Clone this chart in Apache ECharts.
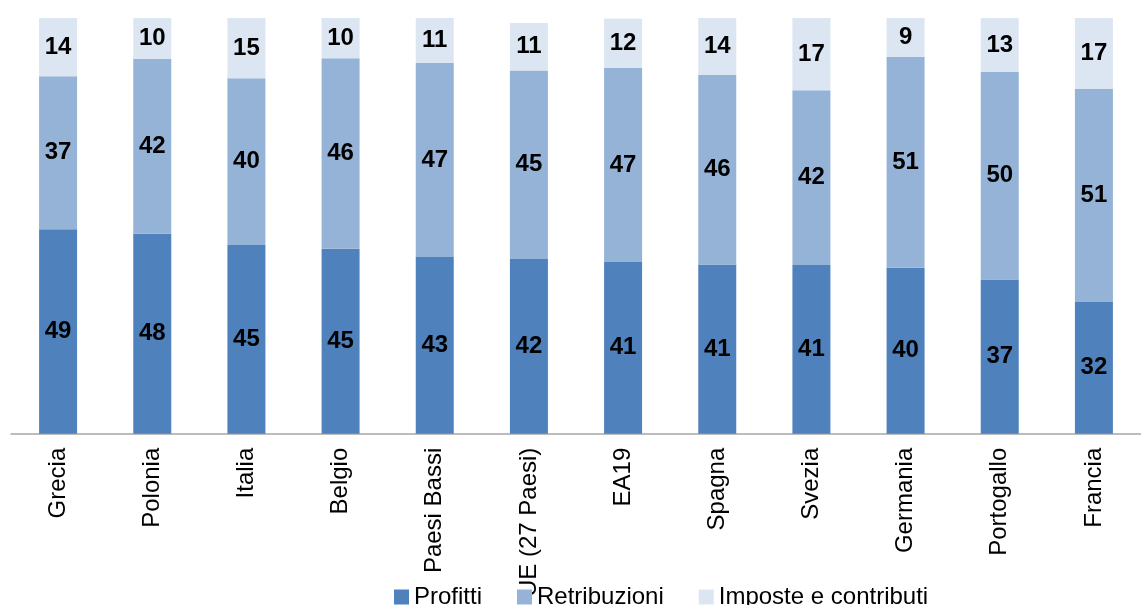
<!DOCTYPE html>
<html>
<head>
<meta charset="utf-8">
<script src="https://cdn.jsdelivr.net/npm/echarts@6/dist/echarts.min.js"></script>
<style>
html,body{margin:0;padding:0;background:#fff;}
#chart{width:1141px;height:605px;}
</style>
</head>
<body>
<div id="chart"></div>
<script>
const categories = ['Grecia','Polonia','Italia','Belgio','Paesi Bassi','UE (27 Paesi)','EA19','Spagna','Svezia','Germania','Portogallo','Francia'];
const profitti = [49.2, 48.1, 45.4, 44.5, 42.5, 42.0, 41.3, 40.7, 40.6, 39.9, 37.1, 31.7];
const retribuzioni = [36.8, 42.1, 40.1, 45.8, 46.7, 45.4, 46.7, 45.6, 42.0, 50.8, 49.9, 51.2];
const imposte = [14.0, 9.8, 14.6, 9.7, 10.8, 11.4, 11.8, 13.7, 17.4, 9.3, 13.0, 17.1];
const seriesNames = ['Profitti','Retribuzioni','Imposte e contributi'];
const colors = ['#4F81BD','#95B3D7','#DCE6F2'];

const FONT = 'Liberation Sans';
const chart = echarts.init(document.getElementById('chart'), null, {renderer:'canvas'});
const labelCfg = {
  show: true,
  position: 'inside',
  color: '#000',
  fontFamily: FONT,
  fontWeight: 'bold',
  fontSize: 24,
  formatter: p => Math.round(p.value)
};
const mk = (name, data, color) => ({
  name, type: 'bar', stack: 'tot', data,
  barWidth: 38,
  itemStyle: {color},
  label: labelCfg,
  emphasis: {disabled: true}
});
chart.setOption({
  animation: false,
  textStyle: {fontFamily: FONT},
  grid: {left: 11, top: 18, width: 1144.5, bottom: 171.3, containLabel: false},
  xAxis: {
    type: 'category',
    data: categories,
    axisTick: {show: false},
    axisLine: {lineStyle: {color: '#A6A6A6', width: 1.5}},
    axisLabel: {rotate: 90, margin: 14, fontSize: 24, color: '#000', fontFamily: FONT, interval: 0}
  },
  yAxis: {type: 'value', min: 0, max: 100, show: false},
  legend: {
    data: seriesNames,
    left: 389, top: 580,
    itemWidth: 15, itemHeight: 15, itemGap: 35,
    icon: 'rect',
    textStyle: {fontSize: 24, color: '#000', fontFamily: FONT}
  },
  color: colors,
  series: [
    mk(seriesNames[0], profitti, colors[0]),
    mk(seriesNames[1], retribuzioni, colors[1]),
    mk(seriesNames[2], imposte, colors[2])
  ]
});
</script>
</body>
</html>
